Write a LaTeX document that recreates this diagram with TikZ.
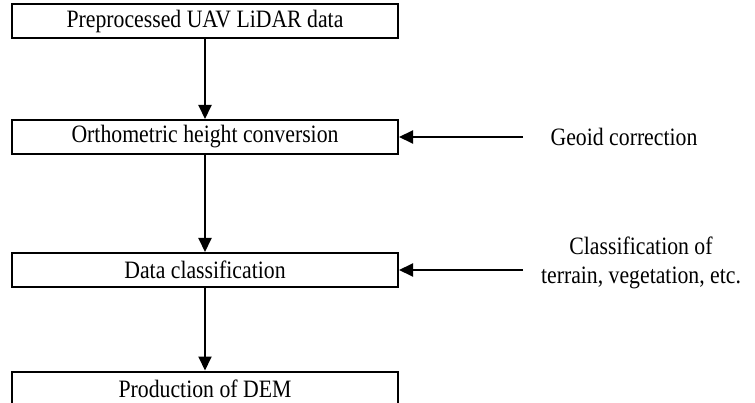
\documentclass[tikz,border=0pt]{standalone}
\usepackage{fontspec}
\setmainfont[FakeStretch=0.87]{Liberation Serif}
\usetikzlibrary{arrows.meta}
\tikzset{every node/.style={font=\fontsize{25}{29}\selectfont},
  stepbox/.style={draw=black,fill=white,line width=2pt,
    minimum width=386pt,minimum height=34pt,inner sep=0pt},
  sidetext/.style={align=center,inner sep=0pt}}

\begin{document}
\begin{tikzpicture}[x=1pt,y=-1pt,
    lnk/.style={draw=black,line width=2pt},
    arr/.style={lnk,-{Triangle[length=14pt,width=13pt]}}]
  \path[use as bounding box] (0,0) rectangle (755,403);

  % main chain of processing steps
  \node[stepbox] (lidar) at (205,21) {Preprocessed UAV LiDAR data};
  \node[stepbox] (ortho) at (205,137) {Orthometric height conversion};
  \node[stepbox] (classif) at (205,270) {Data classification};
  \node[stepbox] (dem) at (205,388.5) {Production of DEM};
  \draw[arr] (lidar) -- (ortho);
  \draw[arr] (ortho) -- (classif);
  \draw[arr] (classif) -- (dem);

  % side inputs
  \node[sidetext] (geoid) at (624,137) {Geoid correction};
  \coordinate (geoidin) at (523,137);
  \draw[arr] (geoidin) -- (ortho);
  \node[sidetext] (terrain) at (641,263)
    {Classification of\\terrain, vegetation, etc.};
  \coordinate (terrainin) at (523,270);
  \draw[arr] (terrainin) -- (classif);
\end{tikzpicture}
\end{document}
